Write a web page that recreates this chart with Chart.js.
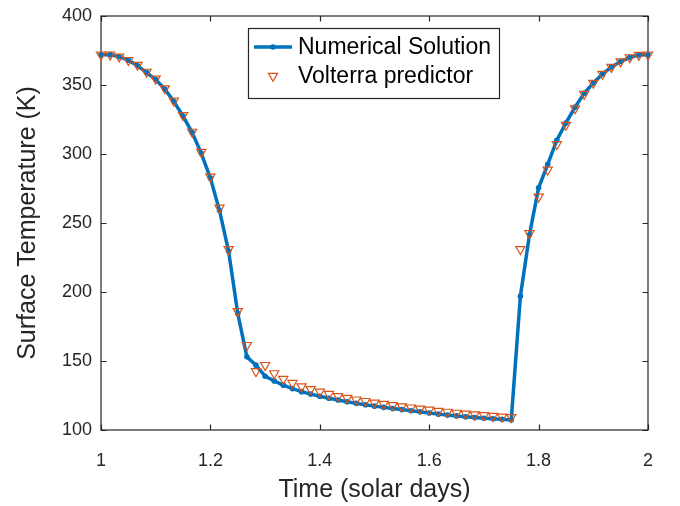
<!DOCTYPE html>
<html><head><meta charset="utf-8">
<script src="https://cdn.jsdelivr.net/npm/chart.js@4.4.0/dist/chart.umd.min.js"></script>
<style>html,body{margin:0;padding:0;background:#fff}#wrap{width:680px;height:506px;position:relative}</style>
</head><body><div id="wrap"><canvas id="c" width="680" height="506"></canvas></div>
<script>
// Time in solar days
const timeDays = [1.0000,1.0167,1.0333,1.0500,1.0667,1.0833,1.1000,1.1167,1.1333,1.1500,
  1.1667,1.1833,1.2000,1.2167,1.2333,1.2500,1.2667,1.2833,1.3000,1.3167,
  1.3333,1.3500,1.3667,1.3833,1.4000,1.4167,1.4333,1.4500,1.4667,1.4833,
  1.5000,1.5167,1.5333,1.5500,1.5667,1.5833,1.6000,1.6167,1.6333,1.6500,
  1.6667,1.6833,1.7000,1.7167,1.7333,1.7500,1.7667,1.7833,1.8000,1.8167,
  1.8333,1.8500,1.8667,1.8833,1.9000,1.9167,1.9333,1.9500,1.9667,1.9833,2.0000];
// Surface temperature (K), numerical solution
const numericalSolution = [372,372,370.5,368,364,359,354,347,338,327.5,
  315.5,300.5,282.5,259,229.5,184.5,153,147,139,135.5,
  132.5,130,127.8,126,124.5,123,121.7,120.5,119.3,118.3,
  117.3,116.4,115.6,114.8,114,113.2,112.3,111.5,110.8,110.2,
  109.6,109,108.5,108.1,107.7,107.3,197,241.5,275.5,292.5,
  310,322.5,334,344,351.5,358,363,367,370,371.7,372];
// Surface temperature (K), Volterra predictor
const volterraPredictor = [372,372,370.5,368,364.5,359.5,354.5,347.5,338.5,328,
  316,301.5,283.5,261,231,186,161.5,142.5,147,141,
  137,134,131.5,129.5,127.7,126,124.5,123.2,122,120.9,
  119.8,118.8,117.9,117,116.2,115.4,114.6,113.8,113.1,112.4,
  111.8,111.2,110.6,110.1,109.6,109.2,231,242.5,269,288.5,
  307,321,333,343.5,351.5,358,363,367,370,371.7,372];
const xTicks = [1, 1.2, 1.4, 1.6, 1.8, 2];
const yTicks = [100, 150, 200, 250, 300, 350, 400];
const seriesNames = ['Numerical Solution', 'Volterra predictor'];
const axisTitles = {x: 'Time (solar days)', y: 'Surface Temperature (K)'};

const BLUE = '#0072BD', ORANGE = '#D95319', AX = '#262626';
const FONT = '"Liberation Sans", Arial, Helvetica, sans-serif';

const toPts = ys => timeDays.map((t, i) => ({x: t, y: ys[i]}));

const boxPlugin = {
  id: 'matlabBox',
  beforeDatasetsDraw(chart) {
    const {ctx, chartArea: a, scales: {x, y}} = chart;
    ctx.save();
    ctx.strokeStyle = AX; ctx.lineWidth = 1.2;
    ctx.strokeRect(a.left, a.top, a.right - a.left, a.bottom - a.top);
    const tl = 5.5;
    ctx.beginPath();
    xTicks.forEach(v => {
      const px = Math.round(x.getPixelForValue(v)) + 0.5;
      ctx.moveTo(px, a.bottom); ctx.lineTo(px, a.bottom - tl);
      ctx.moveTo(px, a.top); ctx.lineTo(px, a.top + tl);
    });
    yTicks.forEach(v => {
      const py = Math.round(y.getPixelForValue(v)) + 0.5;
      ctx.moveTo(a.left, py); ctx.lineTo(a.left + tl, py);
      ctx.moveTo(a.right, py); ctx.lineTo(a.right - tl, py);
    });
    ctx.stroke();
    ctx.restore();
  },
  afterDraw(chart) {
    const {ctx, chartArea: a} = chart;
    ctx.save();
    const lx = a.left + 147, ly = a.top + 12, lw = 251, lh = 70;
    ctx.fillStyle = '#fff';
    ctx.fillRect(lx, ly, lw, lh);
    ctx.strokeStyle = AX; ctx.lineWidth = 1.2;
    ctx.strokeRect(lx + 0.5, ly + 0.5, lw, lh);
    const y1 = ly + 19, y2 = ly + 48;
    ctx.strokeStyle = BLUE; ctx.lineWidth = 3.5;
    ctx.beginPath(); ctx.moveTo(lx + 6, y1); ctx.lineTo(lx + 44, y1); ctx.stroke();
    ctx.fillStyle = BLUE;
    ctx.beginPath(); ctx.arc(lx + 25, y1, 2.8, 0, Math.PI * 2); ctx.fill();
    ctx.strokeStyle = ORANGE; ctx.lineWidth = 1.2;
    ctx.beginPath();
    const r = 5.3;
    ctx.moveTo(lx + 25 - r * 0.866, y2 - r * 0.5);
    ctx.lineTo(lx + 25 + r * 0.866, y2 - r * 0.5);
    ctx.lineTo(lx + 25, y2 + r);
    ctx.closePath(); ctx.stroke();
    ctx.fillStyle = '#000';
    ctx.font = '23px ' + FONT;
    ctx.textBaseline = 'middle';
    ctx.fillText(seriesNames[0], lx + 50, y1 + 1);
    ctx.fillText(seriesNames[1], lx + 50, y2 + 1);
    ctx.restore();
  }
};

new Chart(document.getElementById('c'), {
  type: 'line',
  data: {
    datasets: [
      {label: seriesNames[0], data: toPts(numericalSolution), borderColor: BLUE, backgroundColor: BLUE,
       borderWidth: 3.5, pointRadius: 2.8, pointBorderWidth: 0, pointBackgroundColor: BLUE,
       tension: 0, order: 2, clip: false},
      {label: seriesNames[1], data: toPts(volterraPredictor), showLine: false, pointStyle: 'triangle',
       rotation: 180, pointRadius: 5.3, pointBorderWidth: 1.2, pointBorderColor: ORANGE,
       pointBackgroundColor: 'rgba(0,0,0,0)', borderColor: ORANGE, order: 1, clip: false}
    ]
  },
  options: {
    responsive: false, animation: false, devicePixelRatio: 1,
    layout: {padding: {left: 0, right: 32, top: 16, bottom: 0}},
    plugins: {legend: {display: false}, tooltip: {enabled: false}},
    scales: {
      x: {type: 'linear', min: 1, max: 2,
        afterBuildTicks: s => { s.ticks = xTicks.map(v => ({value: v})); },
        afterFit: s => { s.height = 76; s.paddingLeft = 0; s.paddingRight = 0; },
        grid: {display: false, drawTicks: false}, border: {display: false},
        ticks: {padding: 20, color: AX, font: {family: FONT, size: 18},
          callback: v => String(Number(v.toFixed(1)))},
        title: {display: true, text: axisTitles.x, color: AX, font: {family: FONT, size: 25},
          padding: {top: 0, bottom: 1}}},
      y: {type: 'linear', min: 100, max: 400,
        afterBuildTicks: s => { s.ticks = yTicks.map(v => ({value: v})); },
        afterFit: s => { s.width = 101; s.paddingTop = 0; s.paddingBottom = 0; },
        grid: {display: false, drawTicks: false}, border: {display: false},
        ticks: {padding: 9, color: AX, font: {family: FONT, size: 18}},
        title: {display: true, text: axisTitles.y, color: AX, font: {family: FONT, size: 25},
          padding: {top: 13, bottom: 0}}}
    }
  },
  plugins: [boxPlugin]
});
</script>
</body></html>
